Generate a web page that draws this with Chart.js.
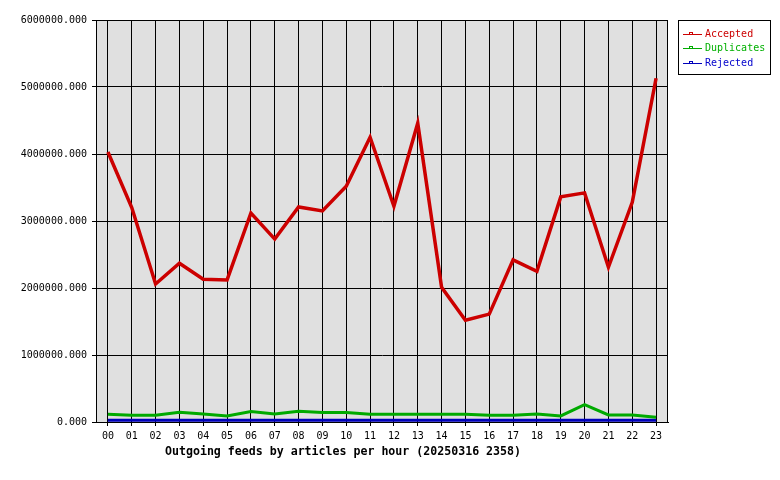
<!DOCTYPE html>
<html lang="en">
<head>
<meta charset="utf-8"/>
<title>Outgoing feeds by articles per hour</title>
<script src="https://cdn.jsdelivr.net/npm/chart.js"></script>
<style>
  html, body { margin: 0; padding: 0; background: #fff; }
  #wrap { width: 780px; height: 480px; }
</style>
</head>
<body>
<div id="wrap"><canvas id="feeds" width="780" height="480"></canvas></div>
<script>
  // hours 00..23
  const hours = ['00','01','02','03','04','05','06','07','08','09','10','11',
                 '12','13','14','15','16','17','18','19','20','21','22','23'];
  const accepted = [4030000, 3200000, 2060000, 2370000, 2130000, 2120000, 3120000, 2730000,
                    3210000, 3150000, 3520000, 4250000, 3220000, 4460000, 2010000, 1520000,
                    1610000, 2420000, 2250000, 3360000, 3420000, 2310000, 3280000, 5130000];
  const duplicates = [115000, 100000, 100000, 145000, 120000, 90000, 155000, 120000,
                      160000, 140000, 140000, 115000, 115000, 115000, 115000, 115000,
                      100000, 100000, 120000, 90000, 260000, 105000, 105000, 70000];
  const rejected = [25000, 25000, 25000, 25000, 25000, 25000, 25000, 25000,
                    25000, 25000, 25000, 25000, 25000, 25000, 25000, 25000,
                    25000, 25000, 25000, 25000, 25000, 25000, 25000, 25000];
  const seriesNames = ['Accepted', 'Duplicates', 'Rejected'];
  const chartTitle = 'Outgoing feeds by articles per hour (20250316 2358)';

  const mono = "'DejaVu Sans Mono', 'Liberation Mono', monospace";
  const lineColors = ['#cc0000', '#00aa00', '#0000bb'];
  const textColors = ['#cc0000', '#00b000', '#0000cc'];

  // grey plot area, black frame, title and the boxed legend
  const frame = {
    id: 'frame',
    beforeDraw(chart) {
      const { ctx, chartArea: a } = chart;
      ctx.save();
      ctx.fillStyle = '#e0e0e0';
      ctx.fillRect(a.left, a.top, a.right - a.left, a.bottom - a.top);
      ctx.restore();
    },
    afterDraw(chart) {
      const { ctx, chartArea: a } = chart;
      ctx.save();
      ctx.strokeStyle = '#000';
      ctx.lineWidth = 1;
      ctx.strokeRect(a.left + 0.5, a.top + 0.5, a.right - a.left - 1, a.bottom - a.top);

      ctx.fillStyle = '#000';
      ctx.font = 'bold 11.6px ' + mono;
      ctx.textAlign = 'center';
      ctx.textBaseline = 'middle';
      ctx.fillText(chartTitle, 343, 452);

      // legend
      ctx.fillStyle = '#fff';
      ctx.fillRect(678.5, 20.5, 92, 54);
      ctx.strokeStyle = '#000';
      ctx.strokeRect(678.5, 20.5, 92, 54);
      ctx.font = '10px ' + mono;
      ctx.textAlign = 'left';
      seriesNames.forEach((name, i) => {
        const y = 33.5 + i * 14.5;
        const yy = Math.round(y) + 0.5;
        ctx.strokeStyle = lineColors[i];
        ctx.beginPath();
        ctx.moveTo(683, yy);
        ctx.lineTo(702, yy);
        ctx.stroke();
        ctx.strokeRect(689.5, yy - 2, 3, 2);
        ctx.fillStyle = textColors[i];
        ctx.fillText(name, 705, yy);
      });
      ctx.restore();
    }
  };

  const mkSet = (label, data, i, w) => ({
    label, data,
    borderColor: lineColors[i],
    backgroundColor: lineColors[i],
    borderWidth: w,
    pointRadius: 0,
    tension: 0,
    fill: false
  });

  new Chart(document.getElementById('feeds'), {
    type: 'line',
    data: {
      labels: hours,
      datasets: [
        mkSet(seriesNames[0], accepted, 0, 3.5),
        mkSet(seriesNames[1], duplicates, 1, 3),
        mkSet(seriesNames[2], rejected, 2, 3)
      ]
    },
    options: {
      responsive: false,
      animation: false,
      layout: { padding: { left: 0, right: 112, top: 20, bottom: 0 } },
      plugins: { legend: { display: false }, tooltip: { enabled: false } },
      scales: {
        x: {
          offset: true,
          grid: { offset: false, color: '#000', lineWidth: 1, tickLength: 4 },
          border: { color: '#000' },
          ticks: { color: '#000', font: { family: mono, size: 10 }, padding: 4, maxRotation: 0, autoSkip: false },
          afterFit(s) { s.height = 58; }
        },
        y: {
          min: 0,
          max: 6000000,
          grid: { color: '#000', lineWidth: 1, tickLength: 4 },
          border: { color: '#000' },
          ticks: {
            stepSize: 1000000,
            color: '#000',
            font: { family: mono, size: 10 },
            padding: 5,
            callback: v => v.toFixed(3)
          },
          afterFit(s) { s.width = 96; }
        }
      }
    },
    plugins: [frame]
  });
</script>
</body>
</html>
